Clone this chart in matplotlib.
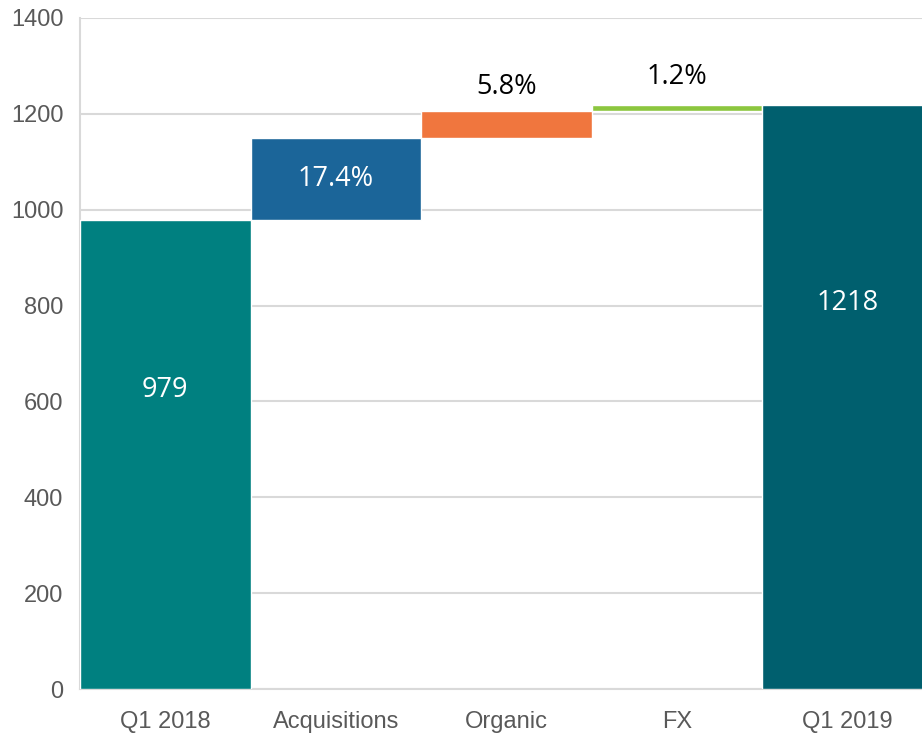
import matplotlib
matplotlib.use("Agg")
import matplotlib.pyplot as plt

categories = ["Q1 2018", "Acquisitions", "Organic", "FX", "Q1 2019"]
start_value = 979
deltas = [170, 57, 12]
delta_labels = ["17.4%", "5.8%", "1.2%"]
end_value = 1218
colors = ["#008080", "#1B6599", "#F0763E", "#8CC63F", "#005F6E"]

fig = plt.figure(figsize=(9.22, 7.34), dpi=100)
ax = fig.add_axes([80 / 922, 1 - 689 / 734, 852.5 / 922, (689 - 18) / 734])

# compute waterfall
bottoms = [0]
heights = [start_value]
running = start_value
for d in deltas:
    bottoms.append(running)
    heights.append(d)
    running += d
bottoms.append(0)
heights.append(end_value)

x = list(range(len(categories)))
ax.bar(x, heights, bottom=bottoms, width=1.0, color=colors,
       edgecolor="white", linewidth=1.0, zorder=3)

ax.set_xlim(-0.5, 4.5)
ax.set_ylim(0, 1400)
ax.set_yticks(range(0, 1401, 200))
ax.set_xticks(x)
ax.set_xticklabels(categories)
ax.grid(axis="y", color="#D9D9D9", linewidth=1.5, zorder=0)
ax.set_axisbelow(True)
for s in ["top", "right"]:
    ax.spines[s].set_visible(False)
ax.spines["left"].set_color("#D9D9D9")
ax.spines["left"].set_linewidth(1.5)
ax.spines["bottom"].set_color("#D9D9D9")
ax.spines["bottom"].set_linewidth(1.5)
ax.tick_params(axis="both", length=0, labelsize=17, labelcolor="#595959")
ax.tick_params(axis="x", pad=16)
ax.tick_params(axis="y", pad=12)
for lab in ax.get_xticklabels() + ax.get_yticklabels():
    lab.set_family("Liberation Sans")

lab_font = dict(family="Open Sans", fontsize=19.5)
# totals
ax.text(0, start_value * 0.638, str(start_value), ha="center", va="center",
        color="white", zorder=4, **lab_font)
ax.text(4, end_value * 0.661, str(end_value), ha="center", va="center",
        color="white", zorder=4, **lab_font)
# acquisitions inside
ax.text(1, bottoms[1] + heights[1] / 2, delta_labels[0], ha="center", va="center",
        color="white", zorder=4, **lab_font)
# others above
offsets = [None, 7, 10]
for i in (1, 2):
    top = bottoms[i + 1] + heights[i + 1]
    ax.annotate(delta_labels[i], (i + 1, top), xytext=(0, offsets[i]),
                textcoords="offset points", ha="center", va="bottom",
                color="black", zorder=4, **lab_font)

fig.savefig("out.png", dpi=100)
